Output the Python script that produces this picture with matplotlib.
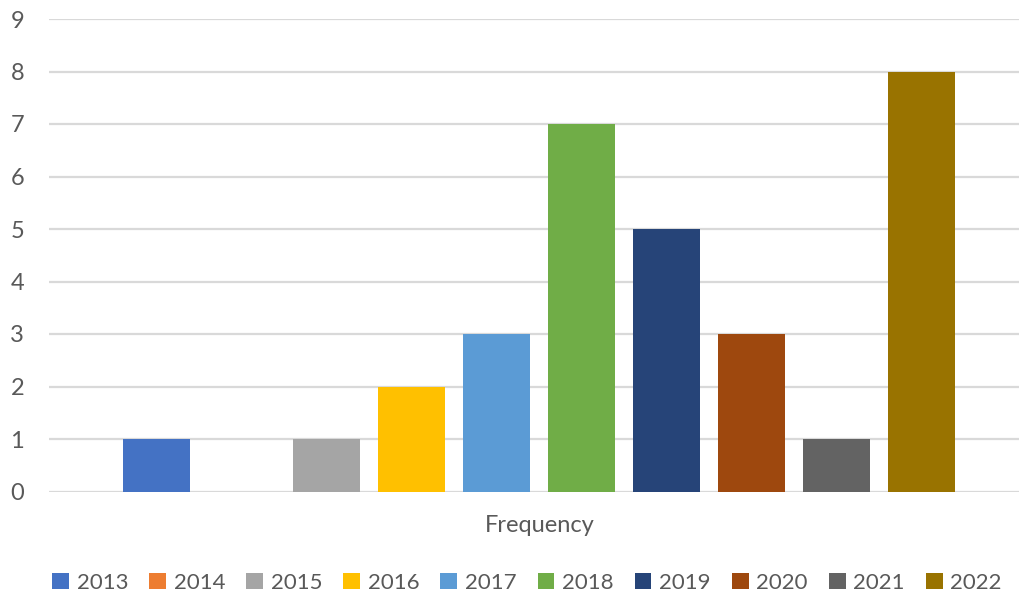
import matplotlib.pyplot as plt
from matplotlib.patches import Patch

years = ["2013", "2014", "2015", "2016", "2017", "2018", "2019", "2020", "2021", "2022"]
counts = [1, 0, 1, 2, 3, 7, 5, 3, 1, 8]
colors = ["#4472C4", "#ED7D31", "#A5A5A5", "#FFC000", "#5B9BD5",
          "#70AD47", "#264478", "#9E480E", "#636363", "#997300"]

plt.rcParams["font.family"] = ["Lato", "DejaVu Sans"]

W, H = 1019, 601
fig = plt.figure(figsize=(W / 100, H / 100), dpi=100)
ax = fig.add_axes([49 / W, 1 - 491.5 / H, (1029 - 49) / W, (491.5 - 19) / H])

# one bar per year, all inside the single "Frequency" category
for i, (yr, c, col) in enumerate(zip(years, counts, colors)):
    ax.bar(i, c, width=0.788, color=col, zorder=3, label=yr)

ax.set_xlim(-1.265, 10.265)
ax.set_ylim(0, 9)
ax.set_yticks(range(10))
ax.yaxis.grid(True, color="#D9D9D9", linewidth=1.6, zorder=0)
ax.set_xticks([])
for s in ax.spines.values():
    s.set_visible(False)
ax.tick_params(axis="y", length=0, labelsize=17, labelcolor="#595959", pad=18)

fig.text(540 / W, 1 - 525 / H, "Frequency", ha="center", va="center",
         fontsize=17, color="#595959")

handles = [Patch(facecolor=col, label=yr) for yr, col in zip(years, colors)]
fig.legend(handles=handles, loc="center", bbox_to_anchor=(527 / W, 1 - 583 / H),
           ncol=10, frameon=False, fontsize=16, labelcolor="#595959",
           handlelength=0.75, handleheight=0.75, handletextpad=0.35,
           columnspacing=0.95)

fig.savefig("out.png", dpi=100)
